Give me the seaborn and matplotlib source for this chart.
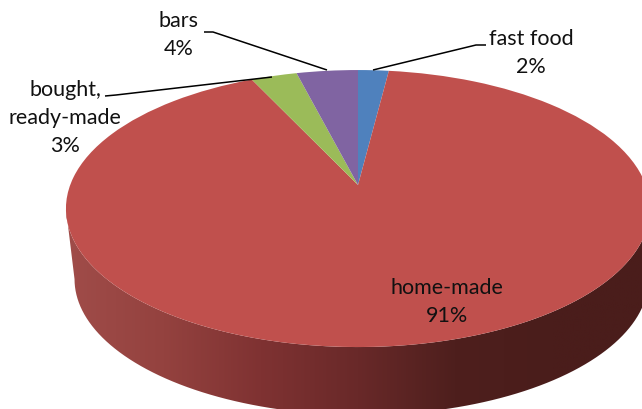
import numpy as np
import matplotlib
matplotlib.use('Agg')
import matplotlib.pyplot as plt
import seaborn as sns
from matplotlib.patches import PathPatch
from matplotlib.path import Path
from matplotlib.transforms import Transform

sns.set_theme(style='white')
plt.rcParams['font.family'] = ['Lato', 'DejaVu Sans']

categories = ['fast food', 'home-made', 'bought,\nready-made', 'bars']
values = [2, 91, 3, 4]
slice_colors = ['#4F81BD', '#C0504D', '#9BBB59', '#8064A2']
side_colors = ['#A04C49', '#94423F', '#7F3232', '#692929', '#4E1F1D', '#4A1D1B', '#4A1D1B']


class Tilt(Transform):
    # fake Excel 3d look: unit circle -> tilted disc, apex is off centre
    input_dims = 2
    output_dims = 2
    is_affine = False

    def __init__(self, cx, cy, a, b, k):
        super().__init__()
        self.cx, self.cy, self.a, self.b, self.k = cx, cy, a, b, k

    def transform_non_affine(self, xy):
        xy = np.asarray(xy, dtype=float)
        w = 1 + self.k * xy[:, 1]
        return np.column_stack((self.cx + self.a * xy[:, 0] / w,
                                self.cy - self.b * xy[:, 1] / w))


k = 0.17
top = Tilt(358, 186, 287.8, 134.5, k)
bottom = Tilt(361.5, 257, 282.8, 132, k)


def side_path():
    # lower rim of the bottom disc, then back along the lower rim of the top disc
    # sin(t) = -k is where the rims reach their widest
    t = np.linspace(np.pi + np.arcsin(k), 2 * np.pi - np.arcsin(k), 200)
    circle = np.column_stack((np.cos(t), np.sin(t)))
    verts = np.vstack((bottom.transform(circle), top.transform(circle)[::-1]))
    return Path(verts, closed=False)


fig = plt.figure(figsize=(6.42, 4.10), dpi=100)
ax = fig.add_axes([0, 0, 1, 1])

wedges, _ = ax.pie(values, colors=sns.color_palette(slice_colors), startangle=90,
                   counterclock=False, wedgeprops={'linewidth': 0, 'zorder': 3})
for w in wedges:
    w.set_transform(top + ax.transData)

side_cmap = sns.blend_palette(side_colors, as_cmap=True)
im = ax.imshow(np.linspace(0, 1, 256)[None, :], cmap=side_cmap, aspect='auto',
               extent=(66, 650, 420, 190), zorder=2)
clip = PathPatch(side_path(), transform=ax.transData, fc='none', lw=0)
ax.add_patch(clip)
im.set_clip_path(clip)

ax.set_aspect('auto')
ax.set_xlim(0, 642)
ax.set_ylim(410, 0)
ax.axis('off')

label_pos = [(531, 53), (447, 302), (65, 118), (179, 35)]
for cat, val, (x, y) in zip(categories, values, label_pos):
    ax.text(x, y, f'{cat}\n{val}%', ha='center', va='center', fontsize=15.5,
            color='#111111', linespacing=1.5, zorder=5)

leaders = [([486, 476, 373], [46, 46, 71]),
           ([204, 213, 327], [33, 33, 71]),
           ([105, 116, 272], [97, 96, 78])]
for xs, ys in leaders:
    ax.plot(xs, ys, color='black', lw=1.1, zorder=4, solid_capstyle='butt')

fig.savefig('out.png', dpi=100)
